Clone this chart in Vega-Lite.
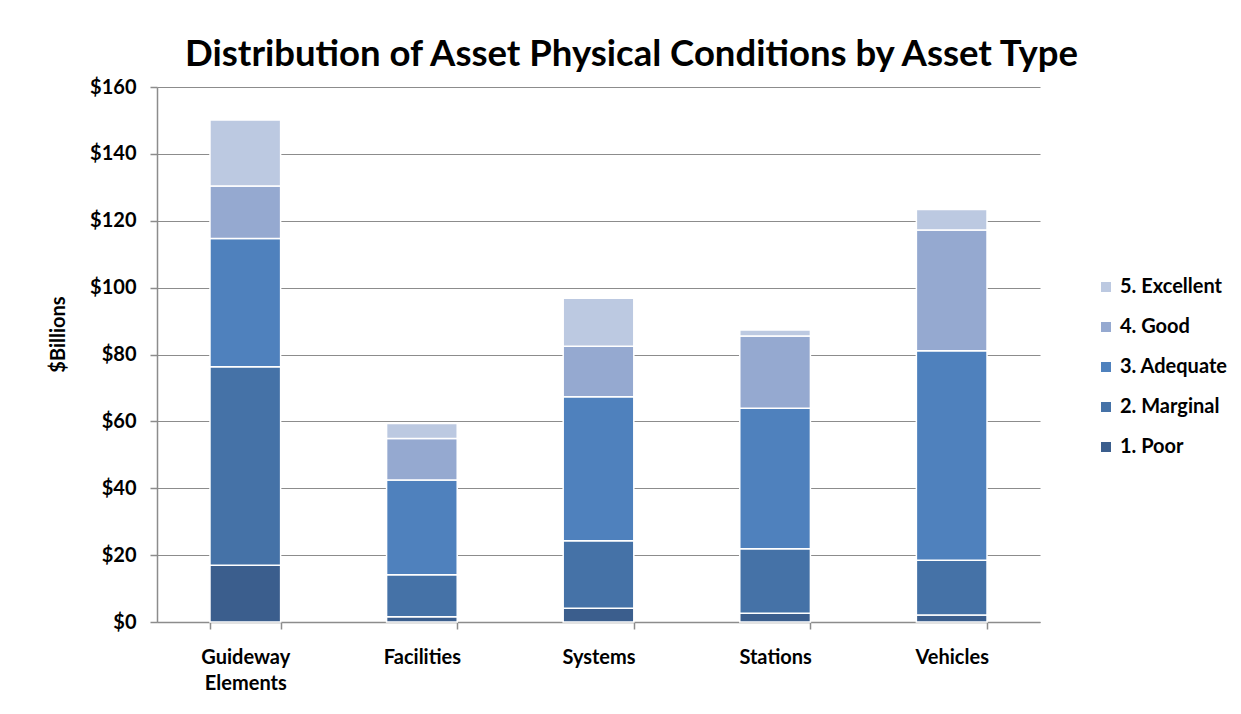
{
  "$schema": "https://vega.github.io/schema/vega-lite/v6.json",
  "autosize": {"type": "none"},
  "padding": {"left": 157, "top": 87, "right": 201, "bottom": 92},
  "width": 883,
  "height": 535,
  "background": "white",
  "title": {
    "text": "Distribution of Asset Physical Conditions by Asset Type",
    "font": "Lato",
    "fontSize": 36.5,
    "fontWeight": "bold",
    "color": "black",
    "anchor": "middle",
    "dx": 33,
    "offset": 4
  },
  "data": {
    "values": [
      {"asset": "Guideway Elements", "condition": "1. Poor", "value": 17.0},
      {"asset": "Guideway Elements", "condition": "2. Marginal", "value": 59.3},
      {"asset": "Guideway Elements", "condition": "3. Adequate", "value": 38.4},
      {"asset": "Guideway Elements", "condition": "4. Good", "value": 15.7},
      {"asset": "Guideway Elements", "condition": "5. Excellent", "value": 19.7},
      {"asset": "Facilities", "condition": "1. Poor", "value": 1.6},
      {"asset": "Facilities", "condition": "2. Marginal", "value": 12.5},
      {"asset": "Facilities", "condition": "3. Adequate", "value": 28.4},
      {"asset": "Facilities", "condition": "4. Good", "value": 12.4},
      {"asset": "Facilities", "condition": "5. Excellent", "value": 4.5},
      {"asset": "Systems", "condition": "1. Poor", "value": 4.1},
      {"asset": "Systems", "condition": "2. Marginal", "value": 20.2},
      {"asset": "Systems", "condition": "3. Adequate", "value": 43.1},
      {"asset": "Systems", "condition": "4. Good", "value": 15.1},
      {"asset": "Systems", "condition": "5. Excellent", "value": 14.3},
      {"asset": "Stations", "condition": "1. Poor", "value": 2.6},
      {"asset": "Stations", "condition": "2. Marginal", "value": 19.3},
      {"asset": "Stations", "condition": "3. Adequate", "value": 42.0},
      {"asset": "Stations", "condition": "4. Good", "value": 21.6},
      {"asset": "Stations", "condition": "5. Excellent", "value": 1.8},
      {"asset": "Vehicles", "condition": "1. Poor", "value": 2.1},
      {"asset": "Vehicles", "condition": "2. Marginal", "value": 16.4},
      {"asset": "Vehicles", "condition": "3. Adequate", "value": 62.6},
      {"asset": "Vehicles", "condition": "4. Good", "value": 36.1},
      {"asset": "Vehicles", "condition": "5. Excellent", "value": 6.2}
    ]
  },
  "mark": {"type": "bar", "stroke": "white", "strokeWidth": 1.5},
  "encoding": {
    "x": {
      "field": "asset",
      "type": "nominal",
      "sort": ["Guideway Elements", "Facilities", "Systems", "Stations", "Vehicles"],
      "scale": {"paddingInner": 0.6, "paddingOuter": 0.3},
      "axis": {
        "title": null,
        "labelAngle": 0,
        "labelFont": "Lato",
        "labelFontSize": 20,
        "labelFontWeight": "bold",
        "labelColor": "black",
        "labelPadding": 18,
        "labelLineHeight": 26,
        "labelBaseline": "top",
        "labelExpr": "datum.label == 'Guideway Elements' ? ['Guideway', 'Elements'] : datum.label",
        "tickBand": "extent",
        "tickSize": 7,
        "tickColor": "#8c8c8c",
        "domainColor": "#8c8c8c",
        "domainWidth": 1.5,
        "tickWidth": 1.5
      }
    },
    "y": {
      "field": "value",
      "type": "quantitative",
      "stack": "zero",
      "scale": {"domain": [0, 160]},
      "axis": {
        "title": "$Billions",
        "titleFont": "Lato",
        "titleFontSize": 20,
        "titleFontWeight": "bold",
        "titleColor": "black",
        "titleX": -99,
        "titleY": 247,
        "titleAngle": -90,
        "titleAlign": "center",
        "titleBaseline": "middle",
        "values": [0, 20, 40, 60, 80, 100, 120, 140, 160],
        "labelExpr": "'$' + datum.value",
        "labelFont": "Lato",
        "labelFontSize": 20,
        "labelFontWeight": "bold",
        "labelColor": "black",
        "labelPadding": 14,
        "tickSize": 7,
        "tickColor": "#8c8c8c",
        "tickWidth": 1.5,
        "domainColor": "#8c8c8c",
        "domainWidth": 1.5,
        "grid": true,
        "gridColor": "#8c8c8c",
        "gridWidth": 1.2
      }
    },
    "color": {
      "field": "condition",
      "type": "nominal",
      "scale": {
        "domain": ["5. Excellent", "4. Good", "3. Adequate", "2. Marginal", "1. Poor"],
        "range": ["#bcc9e1", "#95a9d0", "#4f81bd", "#4572a7", "#3b5e8d"]
      },
      "legend": {
        "title": null,
        "orient": "none",
        "legendX": 939,
        "legendY": 190,
        "symbolType": "square",
        "symbolSize": 100,
        "symbolStrokeWidth": 0,
        "labelFont": "Lato",
        "labelFontSize": 20,
        "labelFontWeight": "bold",
        "labelColor": "black",
        "labelOffset": 4,
        "rowPadding": 20,
        "labelLimit": 200,
        "direction": "vertical"
      }
    },
    "order": {"field": "condition", "type": "nominal", "sort": "ascending"}
  },
  "config": {
    "view": {"stroke": null}
  }
}
